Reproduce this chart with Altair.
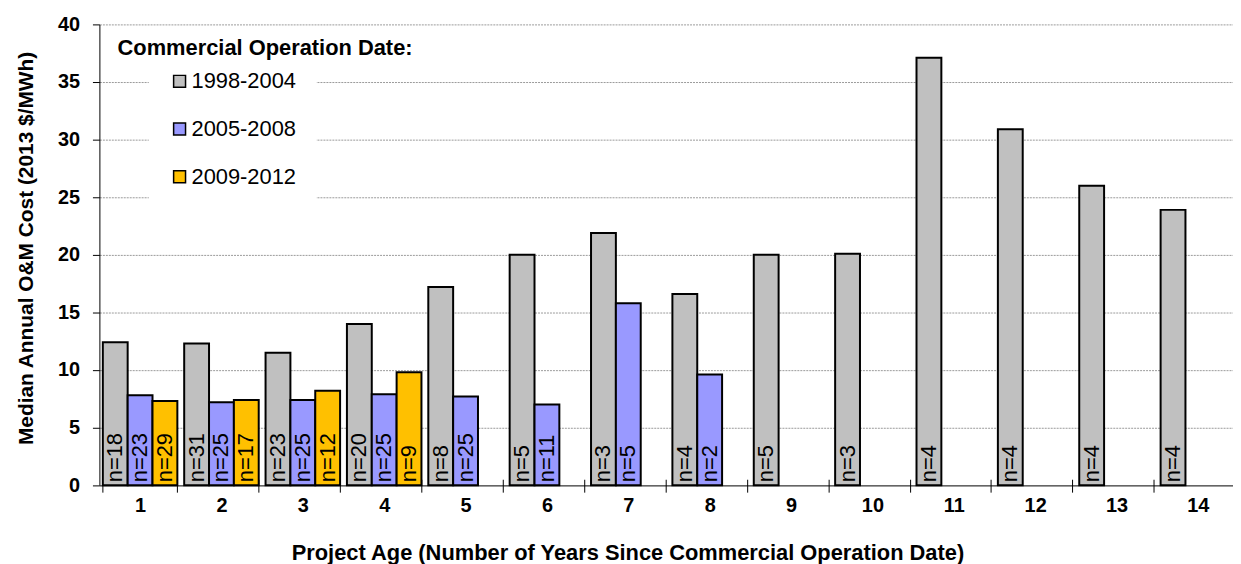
import altair as alt
import pandas as pd

ages = [str(i) for i in range(1, 15)]
series = ["1998-2004", "2005-2008", "2009-2012"]
colors = ["#C0C0C0", "#9999FF", "#FFC000"]

cost_1998_2004 = [12.4, 12.3, 11.5, 14.0, 17.2, 20.0, 21.9, 16.6, 20.0, 20.1, 37.1, 30.9, 26.0, 23.9]
n_1998_2004 = [18, 31, 23, 20, 8, 5, 3, 4, 5, 3, 4, 4, 4, 4]
cost_2005_2008 = [7.8, 7.2, 7.4, 7.9, 7.7, 7.0, 15.8, 9.6]
n_2005_2008 = [23, 25, 25, 25, 25, 11, 5, 2]
cost_2009_2012 = [7.3, 7.4, 8.2, 9.8]
n_2009_2012 = [29, 17, 12, 9]

y_ticks = [0, 5, 10, 15, 20, 25, 30, 35, 40]

rows = []
for s, vals, ns in zip(series,
                       [cost_1998_2004, cost_2005_2008, cost_2009_2012],
                       [n_1998_2004, n_2005_2008, n_2009_2012]):
    for i, (v, n) in enumerate(zip(vals, ns)):
        rows.append({"age": ages[i], "series": s, "cost": v, "label": f"n={n}"})
df = pd.DataFrame(rows)

FONT = "Liberation Sans"

x_scale = alt.Scale(range=[0, 1146.6], paddingInner=0.084, paddingOuter=0.042)
x_axis = alt.Axis(
    title="Project Age (Number of Years Since Commercial Operation Date)",
    labelAngle=0, tickBand="extent", offset=-6, domain=False, tickSize=13,
    tickColor="black", tickWidth=1, labelPadding=3, labelFontSize=20,
    labelFontWeight="bold", labelColor="black", titleFontSize=22,
    titleFontWeight="bold", titleColor="black", titleX=531.5, titleY=80.3,
    titleBaseline="alphabetic", titleAlign="center", grid=False,
)
y_axis = alt.Axis(
    title="Median Annual O&M Cost (2013 $/MWh)", values=y_ticks,
    tickSize=7, tickColor="black", labelPadding=13, labelFontSize=20,
    labelFontWeight="bold", labelColor="black", domainColor="black",
    domainWidth=1,
    gridColor={"condition": {"test": "datum.value === 0", "value": "black"}, "value": "#9a9a9a"},
    gridDash={"condition": {"test": "datum.value === 0", "value": []}, "value": [2, 1]},
    gridWidth=1,
    titleFontSize=21, titleFontWeight="bold", titleColor="black",
    titleX=-67, titleY=225, titleAngle=270, titleBaseline="alphabetic",
    titleAlign="center",
)

xo = alt.XOffset("series:N", sort=series, scale=alt.Scale(domain=series))

bars = alt.Chart(df).mark_bar(stroke="black", strokeWidth=2).encode(
    x=alt.X("age:O", sort=ages, scale=x_scale, axis=x_axis),
    xOffset=xo,
    y=alt.Y("cost:Q", scale=alt.Scale(domain=[0, 40], nice=False), axis=y_axis),
    color=alt.Color(
        "series:N",
        scale=alt.Scale(domain=series, range=colors),
        legend=alt.Legend(
            title=None, orient="none", legendX=49.7, legendY=26.3,
            fillColor="white", padding=20, rowPadding=26, labelOffset=1,
            symbolType="square", symbolSize=144, symbolStrokeColor="black",
            symbolStrokeWidth=1.5, labelFontSize=22, labelFont=FONT,
            labelColor="black",
        ),
    ),
)

labels = alt.Chart(df).mark_text(
    angle=270, align="left", baseline="middle", dx=3, fontSize=22,
    font=FONT, color="black",
).encode(
    x=alt.X("age:O", sort=ages, scale=x_scale, axis=x_axis),
    xOffset=xo,
    y=alt.datum(0),
    text="label:N",
)

chart = alt.layer(bars, labels).properties(
    width=1141,
    height=463.8,
    title=alt.TitleParams(
        "Commercial Operation Date:", anchor="start", frame="group",
        dx=18.3, offset=-63, fontSize=22, fontWeight="bold", font=FONT,
        color="black", baseline="alphabetic",
    ),
    autosize=alt.AutoSizeParams(type="none"),
    padding={"left": 92, "top": 14.7, "right": 0, "bottom": 77.5},
).configure(font=FONT).configure_view(stroke=None)

chart.save("out.html", embed_options={"renderer": "svg", "actions": False})
